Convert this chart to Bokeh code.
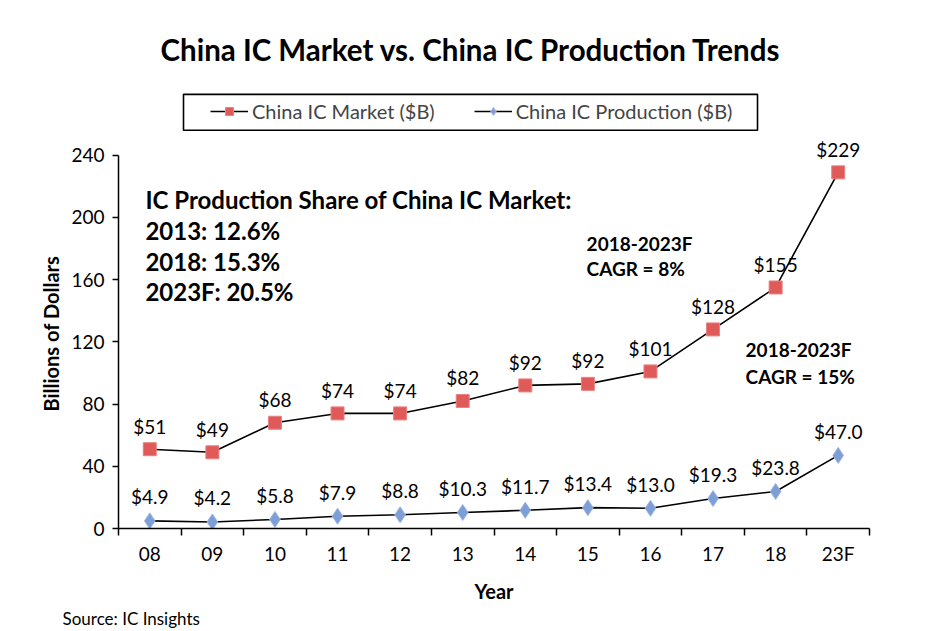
from bokeh.plotting import figure
from bokeh.models import Range1d, FixedTicker, Label, Legend, LegendItem, ColumnDataSource, LabelSet, Title, BoxAnnotation
from bokeh.core.properties import value
from bokeh.embed import file_html
from bokeh.resources import INLINE

years = ["08", "09", "10", "11", "12", "13", "14", "15", "16", "17", "18", "23F"]
market = [51, 49, 68, 74, 74, 82, 92, 93, 101, 128, 155, 229]
market_labels = ["$51", "$49", "$68", "$74", "$74", "$82", "$92", "$92", "$101", "$128", "$155", "$229"]
production = [4.9, 4.2, 5.8, 7.9, 8.8, 10.3, 11.7, 13.4, 13.0, 19.3, 23.8, 47.0]
production_labels = ["$4.9", "$4.2", "$5.8", "$7.9", "$8.8", "$10.3", "$11.7", "$13.4", "$13.0", "$19.3", "$23.8", "$47.0"]
y_ticks = [0, 40, 80, 120, 160, 200, 240]

FONT = "Lato"
RED = "#E05A5A"
BLUE = "#7D9ED6"

xs = list(range(len(years)))
src = ColumnDataSource(dict(x=xs, market=market, mlab=market_labels,
                            production=production, plab=production_labels))

p = figure(width=935, height=628, output_backend="svg", toolbar_location=None,
           x_range=Range1d(-0.5, len(years) - 0.5), y_range=Range1d(0, 294.5),
           min_border_left=118, min_border_right=66, min_border_top=70, min_border_bottom=99)
p.title = Title(text="China IC Market vs. China IC Production Trends", align="left", offset=42,
                standoff=8, text_font=FONT, text_font_size="29.5px", text_font_style="bold",
                text_color="black")
p.outline_line_color = None
p.xgrid.grid_line_color = None
p.ygrid.grid_line_color = None

# axes
p.xaxis.ticker = FixedTicker(ticks=xs, minor_ticks=[i - 0.5 for i in range(len(years) + 1)])
p.xaxis.major_label_overrides = {i: y for i, y in enumerate(years)}
p.xaxis.major_tick_line_color = None
p.xaxis.major_tick_out = 0
p.xaxis.major_tick_in = 0
p.xaxis.minor_tick_line_color = "black"
p.xaxis.minor_tick_out = 7
p.xaxis.minor_tick_in = 0
p.xaxis.major_label_standoff = 6
p.xaxis.axis_label = "Year"
p.xaxis.axis_label_standoff = 11

p.yaxis.ticker = FixedTicker(ticks=y_ticks)
p.yaxis.bounds = (0, 240)
p.yaxis.minor_tick_line_color = None
p.yaxis.major_tick_out = 6
p.yaxis.major_tick_in = 0
p.yaxis.major_label_standoff = 8

for ax in (p.xaxis, p.yaxis):
    ax.axis_line_color = "black"
    ax.axis_line_width = 1.5
    ax.major_tick_line_width = 1.5
    ax.minor_tick_line_width = 1.5
    ax.major_label_text_font = FONT
    ax.major_label_text_font_size = "19px"
    ax.major_label_text_color = "black"
    ax.axis_label_text_font = FONT
    ax.axis_label_text_font_style = "bold"
    ax.axis_label_text_color = "black"
p.xaxis.axis_label_text_font_size = "20px"

# y-axis title, placed from the bottom of the frame
p.add_layout(Title(text="Billions of Dollars", align="left", offset=117, standoff=12,
                   text_font=FONT, text_font_size="20px", text_font_style="bold",
                   text_color="black"), "left")

# series
ml = p.line("x", "market", source=src, line_color="black", line_width=1.6)
ms = p.scatter("x", "market", source=src, marker="square", size=13,
               fill_color=RED, line_color="#EB8080", line_width=1)
pl = p.line("x", "production", source=src, line_color="black", line_width=1.6)
ps = p.scatter("x", "production", source=src, marker="diamond", size=16,
               fill_color=BLUE, line_color="#9DB5E0", line_width=1)

p.add_layout(LabelSet(x="x", y="market", text="mlab", source=src, y_offset=23,
                      text_align="center", text_baseline="middle",
                      text_font=value(FONT), text_font_size=value("19px"), text_color="black"))
p.add_layout(LabelSet(x="x", y="production", text="plab", source=src, y_offset=24,
                      text_align="center", text_baseline="middle",
                      text_font=value(FONT), text_font_size=value("19px"), text_color="black"))

# legend with its box
p.add_layout(BoxAnnotation(left=0.5386, right=9.7105, bottom=256.05, top=279.15,
                           fill_alpha=0, line_color="black", line_width=1.6, line_alpha=1))
legend = Legend(items=[LegendItem(label="China IC Market ($B)", renderers=[ml, ms]),
                       LegendItem(label="China IC Production ($B)", renderers=[pl, ps])],
                location=(92, 405), orientation="horizontal",
                border_line_color=None, background_fill_alpha=0,
                label_text_font=FONT, label_text_font_size="20px", label_height=24,
                glyph_width=38, label_standoff=4, spacing=39, padding=6, margin=0)
p.add_layout(legend)

def note(x, y, text, size):
    p.add_layout(Label(x=x, y=y, text=text, text_font=FONT, text_font_size=size,
                       text_font_style="bold", text_baseline="middle", text_color="black"))

note(-0.07, 211.7, "IC Production Share of China IC Market:", "24px")
note(-0.07, 191.8, "2013: 12.6%", "24px")
note(-0.07, 171.9, "2018: 15.3%", "24px")
note(-0.07, 152.1, "2023F: 20.5%", "24px")
note(6.98, 183.5, "2018-2023F", "19px")
note(6.98, 167.5, "CAGR = 8%", "19px")
note(9.52, 114.8, "2018-2023F", "19px")
note(9.52, 97.5, "CAGR = 15%", "19px")

src_title = Title(text="Source: IC Insights", align="left", offset=-56, standoff=0,
                  text_font=FONT, text_font_size="17px", text_font_style="normal",
                  text_color="black")
p.add_layout(src_title, "below")

open("out.html", "w").write(file_html(p, INLINE))
